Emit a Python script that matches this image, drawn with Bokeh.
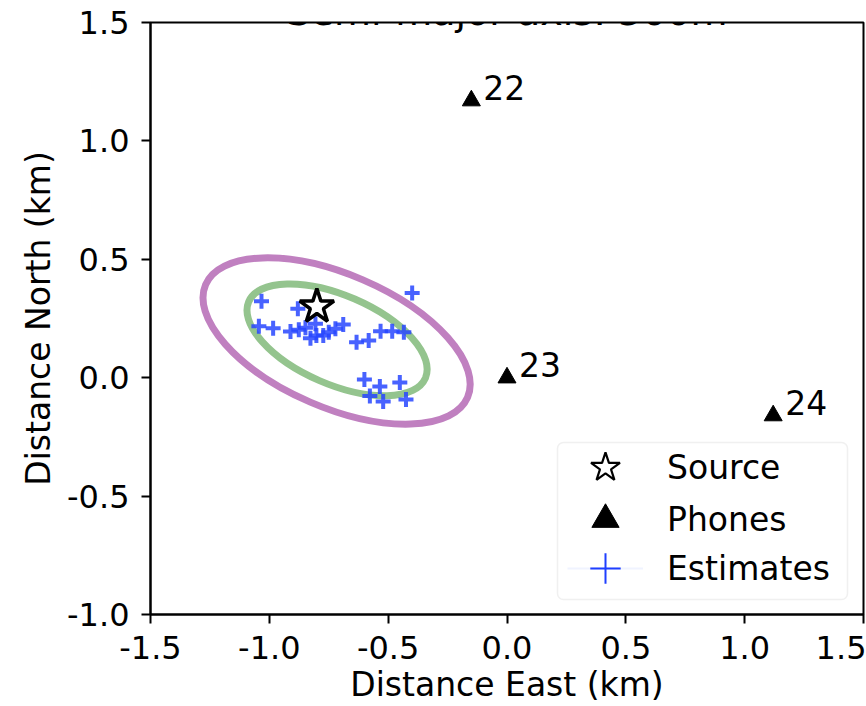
import math
from bokeh.plotting import figure
from bokeh.models import (Range1d, FixedTicker, Legend, LegendItem, Label,
                          BoxAnnotation, ColumnDataSource)
from bokeh.core.properties import value
from bokeh.embed import file_html
from bokeh.resources import INLINE

# ---------------- data ----------------
title_text = "Semi-major axis: 500m"
x_label = "Distance East (km)"
y_label = "Distance North (km)"

x_ticks = [-1.5, -1.0, -0.5, 0.0, 0.5, 1.0, 1.5]
x_tick_labels = ["-1.5", "-1.0", "-0.5", "0.0", "0.5", "1.0", "1.5"]
y_ticks = [-1.0, -0.5, 0.0, 0.5, 1.0, 1.5]
y_tick_labels = ["-1.0", "-0.5", "0.0", "0.5", "1.0", "1.5"]

source_x = [-0.80]
source_y = [0.30]

phone_ids = ["22", "23", "24"]
phone_x = [-0.15, 0.00, 1.12]
phone_y = [1.17, 0.00, -0.16]

est_x = [-1.033, -0.880, -1.044, -0.984, -0.911, -0.876, -0.848, -0.827,
         -0.802, -0.806, -0.773, -0.750, -0.722, -0.689, -0.633, -0.582,
         -0.532, -0.483, -0.434, -0.399, -0.600, -0.535, -0.451, -0.577,
         -0.521, -0.425]
est_y = [0.323, 0.291, 0.217, 0.209, 0.195, 0.202, 0.211, 0.167,
         0.178, 0.228, 0.178, 0.192, 0.207, 0.225, 0.150, 0.157,
         0.196, 0.196, 0.192, 0.358, -0.008, -0.037, -0.020, -0.077,
         -0.100, -0.092]

ell_cx = [-0.717, -0.715]
ell_cy = [0.155, 0.160]
ell_semi_major = [0.600, 0.405]
ell_semi_minor = [0.281, 0.188]
ell_angle_deg = [-23.3, -23.4]
ell_colors = ["#c080c0", "#94c48e"]

legend_labels = ["Source", "Phones", "Estimates"]

FONT = "DejaVu Sans"
NAN = float("nan")

# ---------------- figure ----------------
p = figure(width=866, height=706, output_backend="svg", toolbar_location=None,
           x_range=Range1d(-1.5, 1.5), y_range=Range1d(-1.0, 1.5),
           min_border_left=150, min_border_right=3, min_border_top=22,
           min_border_bottom=92)
p.grid.visible = False
p.outline_line_color = "black"
p.outline_line_width = 2
p.background_fill_color = "white"
p.border_fill_color = "white"

for ax, ticks, labels, lab in ((p.xaxis[0], x_ticks, x_tick_labels, x_label),
                               (p.yaxis[0], y_ticks, y_tick_labels, y_label)):
    ax.ticker = FixedTicker(ticks=ticks)
    ax.major_label_overrides = dict(zip(ticks, labels))
    ax.axis_label = lab
    ax.axis_label_text_font = FONT
    ax.axis_label_text_font_size = "33px"
    ax.axis_label_text_font_style = "normal"
    ax.axis_label_text_color = "black"
    ax.major_label_text_font = FONT
    ax.major_label_text_font_size = "32px"
    ax.major_label_text_color = "black"
    ax.axis_line_color = "black"
    ax.axis_line_width = 2
    ax.major_tick_line_color = "black"
    ax.major_tick_line_width = 2
    ax.major_tick_out = 9
    ax.major_tick_in = 0
    ax.minor_tick_line_color = None

p.xaxis[0].major_label_standoff = 12
p.xaxis[0].axis_label_standoff = 3
p.yaxis[0].major_label_standoff = 12
p.yaxis[0].axis_label_standoff = 6

# ellipses
ell_src = ColumnDataSource(dict(
    x=ell_cx, y=ell_cy,
    w=[2 * a for a in ell_semi_major], h=[2 * b for b in ell_semi_minor],
    ang=[math.radians(d) for d in ell_angle_deg], c=ell_colors))
p.ellipse(x="x", y="y", width="w", height="h", angle="ang", source=ell_src,
          fill_alpha=0, line_color="c", line_width=7)

# estimates
est = p.scatter(est_x, est_y, marker="cross", size=15, line_width=4,
                line_color="#2847ff", line_alpha=0.85)

# source
src = p.scatter(source_x, source_y, marker="star", size=36, fill_color="white",
                line_color="black", line_width=3.5)

# phones
ph_src = ColumnDataSource(dict(x=phone_x, y=phone_y, t=phone_ids))
ph = p.scatter("x", "y", source=ph_src, marker="triangle", size=18,
               fill_color="black", line_color="black")
p.text("x", "y", text="t", source=ph_src, x_offset=12, y_offset=-13,
       text_font=value(FONT), text_font_size="33px", text_color="black",
       text_align="left", text_baseline="alphabetic")

# title (mostly clipped above the canvas, as in the reference)
p.add_layout(Label(x=0.0, y=1.545, x_units="data", y_units="data",
                   text=title_text, text_align="center",
                   text_baseline="alphabetic", text_font=FONT,
                   text_font_size="38px", text_color="black"))

# ---------------- legend ----------------
leg_star = p.scatter([NAN], [NAN], marker="star", fill_color="white",
                     line_color="black", line_width=2.2)
leg_tri = p.scatter([NAN], [NAN], marker="triangle", fill_color="black",
                    line_color="black")
leg_line = p.line([NAN, NAN], [NAN, NAN], line_color="#3050ff",
                  line_alpha=0.07, line_width=2)
leg_plus = p.scatter([NAN], [NAN], marker="cross", line_color="#1f3fff",
                     line_width=2)

p.add_layout(BoxAnnotation(left=407, right=697, bottom=15, top=172,
                           left_units="screen", right_units="screen",
                           top_units="screen", bottom_units="screen",
                           fill_color="white", fill_alpha=0.85,
                           line_color="#cccccc", line_width=1.5,
                           border_radius=6))

rows = [(legend_labels[0], [leg_star], 147, 76),
        (legend_labels[1], [leg_tri], 95, 68),
        (legend_labels[2], [leg_line, leg_plus], 46, 76)]
for lab, rends, cy, g in rows:
    left = 455 - g // 2
    leg = Legend(items=[LegendItem(label=lab, renderers=rends)],
                 location=(left, cy - g // 2), glyph_width=g, glyph_height=g,
                 padding=0, margin=0, spacing=0,
                 label_standoff=517 - (left + g),
                 label_text_font=FONT, label_text_font_size="33px",
                 label_text_color="black",
                 border_line_alpha=0, background_fill_alpha=0)
    p.add_layout(leg)

open("out.html", "w").write(file_html(p, INLINE))
